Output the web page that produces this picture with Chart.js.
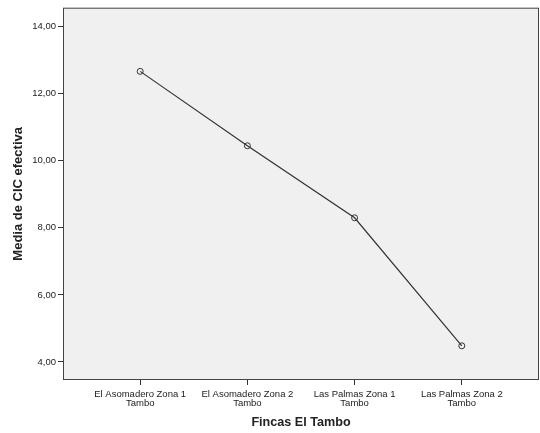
<!DOCTYPE html>
<html>
<head>
<meta charset="utf-8">
<script src="https://cdn.jsdelivr.net/npm/chart.js@4/dist/chart.umd.min.js"></script>
<style>
  html, body { margin: 0; padding: 0; background: #ffffff; }
  #wrap { width: 540px; height: 433px; }
</style>
</head>
<body>
<div id="wrap"><canvas id="c" width="540" height="433"></canvas></div>
<script>
// Fincas and their mean effective CIC
const categories = [
  ['El Asomadero Zona 1', 'Tambo'],
  ['El Asomadero Zona 2', 'Tambo'],
  ['Las Palmas Zona 1', 'Tambo'],
  ['Las Palmas Zona 2', 'Tambo']
];
const means = [12.67, 10.45, 8.30, 4.48];
const yTicks = [4, 6, 8, 10, 12, 14];

const FONT = "'Liberation Sans', Arial, sans-serif";
const INK = '#333333';

// Shade the plotting area and frame it
const plotFrame = {
  id: 'plotFrame',
  beforeDatasetsDraw(chart) {
    const { ctx, chartArea: a } = chart;
    ctx.save();
    ctx.fillStyle = '#f0f0f0';
    ctx.fillRect(a.left, a.top, a.right - a.left, a.bottom - a.top);
    ctx.restore();
  },
  afterDatasetsDraw(chart) {
    const { ctx, chartArea: a } = chart;
    ctx.save();
    ctx.strokeStyle = '#444444';
    ctx.lineWidth = 1;
    ctx.strokeRect(a.left + 0.5, a.top + 0.5, a.right - a.left - 1, a.bottom - a.top - 1);
    ctx.restore();
  }
};

new Chart(document.getElementById('c'), {
  type: 'line',
  data: {
    datasets: [{
      data: means.map((v, i) => ({ x: i, y: v })),
      borderColor: INK,
      borderWidth: 1.2,
      pointRadius: 3,
      pointBorderWidth: 1,
      pointBorderColor: INK,
      pointBackgroundColor: 'rgba(0,0,0,0)',
      tension: 0,
      fill: false
    }]
  },
  options: {
    responsive: false,
    animation: false,
    devicePixelRatio: 1,
    layout: { autoPadding: false, padding: { top: 7, right: 1, left: 0, bottom: 0 } },
    plugins: { legend: { display: false }, tooltip: { enabled: false } },
    scales: {
      x: {
        type: 'linear',
        min: -0.72,
        max: 3.72,
        afterBuildTicks(s) { s.ticks = categories.map((_, i) => ({ value: i })); },
        afterFit(s) { s.height = 53; s.paddingLeft = 0; s.paddingRight = 0; },
        grid: { drawOnChartArea: false, drawTicks: true, tickLength: 5, tickColor: INK, lineWidth: 1 },
        border: { display: false },
        ticks: {
          autoSkip: false,
          maxRotation: 0,
          padding: 5,
          color: '#222222',
          font: { family: FONT, size: 9.5, lineHeight: 0.95 },
          callback: (v) => categories[v] || ''
        },
        title: {
          display: true,
          text: 'Fincas El Tambo',
          color: '#222222',
          font: { family: FONT, size: 12.6, weight: 'bold' },
          padding: { top: 4, bottom: 3 }
        }
      },
      y: {
        min: 3.46,
        max: 14.57,
        afterBuildTicks(s) { s.ticks = yTicks.map(v => ({ value: v })); },
        afterFit(s) { s.width = 63; },
        grid: { drawOnChartArea: false, drawTicks: true, tickLength: 5, tickColor: INK, lineWidth: 1 },
        border: { display: false },
        ticks: {
          padding: 2,
          color: '#222222',
          font: { family: FONT, size: 9.5 },
          callback: (v) => v.toFixed(2).replace('.', ',')
        },
        title: {
          display: true,
          text: 'Media de CIC efectiva',
          color: '#222222',
          font: { family: FONT, size: 13, weight: 'bold' },
          padding: { top: 11, bottom: 0 }
        }
      }
    }
  },
  plugins: [plotFrame]
});
</script>
</body>
</html>
